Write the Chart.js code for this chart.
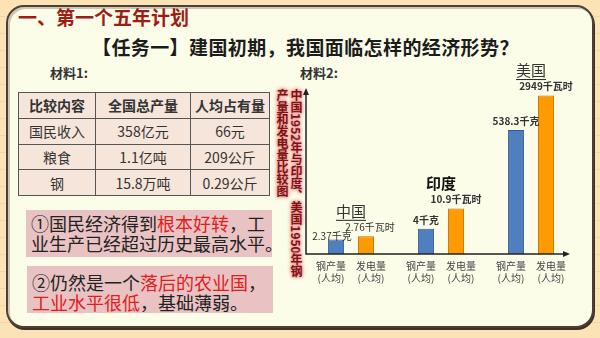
<!DOCTYPE html>
<html>
<head>
<meta charset="utf-8">
<script src="https://cdn.jsdelivr.net/npm/chart.js@4.4.1/dist/chart.umd.min.js"></script>
<style>
    html, body { margin: 0; padding: 0; }
    body {
        width: 600px; height: 338px; overflow: hidden; position: relative;
        font-family: "Noto Sans CJK SC", "Noto Sans", sans-serif;
        background: #fce3b6;
        background-image: repeating-linear-gradient(to bottom, transparent 0 16px, rgba(226, 186, 136, .35) 16px 17px);
    }
    .abs { position: absolute; white-space: nowrap; }
    .panel {
        left: 6px; top: 5px; width: 584px; height: 319px;
        border: 2px solid #4e3e33; border-radius: 18px; background: #fbfde9;
        box-shadow: inset 2px 2px 0 #cfc6b6, 1px 2px 0 #3f3229;
    }
    .title { left: 18px; top: 4px; font-size: 19px; line-height: 26px; font-weight: bold; color: #9e1d16; }
    .task { left: 92px; top: 34px; font-size: 19px; line-height: 26px; font-weight: bold; color: #1c1c1c; letter-spacing: .4px; }
    .mat { top: 64px; font-size: 13px; line-height: 18px; font-weight: 600; color: #333; }
    table.cmp {
        position: absolute; left: 18px; top: 92px; width: 252px; height: 104px;
        border-collapse: collapse; background: #f6e5da; font-size: 14px; color: #333;
    }
    table.cmp td { border: 1px solid #555; text-align: center; padding: 0; }
    table.cmp tr.head td { font-weight: bold; }
    .box {
        width: 241px; height: 47px; padding-left: 5px; background: #e9c3c3;
        font-size: 18px; line-height: 20px; color: #222; box-sizing: content-box;
    }
    .box .red { color: #e0201c; }
    .vtitle {
        left: 275px; top: 89px; writing-mode: vertical-rl; font-size: 12px; line-height: 14px;
        font-weight: bold; color: #7d1212;
        text-shadow: 0 0 2px #f09a9a, 0 0 3px #f09a9a, 0 0 4px #f2a6a6, 0 0 5px #f2a6a6;
    }
    #chart { position: absolute; left: 300px; top: 60px; }
</style>
</head>
<body>
<div class="abs panel"></div>
<div class="abs title">一、第一个五年计划</div>
<div class="abs task">【任务一】建国初期，我国面临怎样的经济形势？</div>
<div class="abs mat" style="left:50px">材料1:</div>
<div class="abs mat" style="left:300px">材料2:</div>

<table class="cmp">
    <tr class="head"><td style="width:76px">比较内容</td><td style="width:94px">全国总产量</td><td>人均占有量</td></tr>
    <tr><td>国民收入</td><td>358亿元</td><td>66元</td></tr>
    <tr><td>粮食</td><td>1.1亿吨</td><td>209公斤</td></tr>
    <tr><td>钢</td><td>15.8万吨</td><td>0.29公斤</td></tr>
</table>

<div class="abs box" style="left:26px; top:210px; padding-top:3px; height:44px">
    ①国民经济得到<span class="red">根本好转</span>，工<br>业生产已经超过历史最高水平。
</div>
<div class="abs box" style="left:27px; top:266px; padding-top:6px; height:41px">
    ②仍然是一个<span class="red">落后的农业国</span>，<br><span class="red">工业水平很低</span>，基础薄弱。
</div>

<div class="abs vtitle">中国1952年与印度、美国1950年钢<br>产量和发电量比较图</div>

<canvas id="chart" width="290" height="240"></canvas>

<script>
// 人均钢产量（千克）与人均发电量（千瓦时）
const countries = ['中国', '印度', '美国'];
const steelPerCapita = [2.37, 4, 538.3];
const powerPerCapita = [2.76, 10.9, 2949];
const measureLabels = [['钢产量', '(人均)'], ['发电量', '(人均)']];
const units = ['千克', '千瓦时'];

const barColors = ['#4f7fbf', '#ff9a00'];
const barBorders = ['#34598c', '#b86e00'];

// one category per bar, an empty one between the countries
var labels = [], values = [], kinds = [], owner = [];
countries.forEach(function (c, i) {
    if (i > 0) { labels.push(''); values.push(null); kinds.push(-1); owner.push(-1); }
    labels.push(measureLabels[0]); values.push(steelPerCapita[i]); kinds.push(0); owner.push(i);
    labels.push(measureLabels[1]); values.push(powerPerCapita[i]); kinds.push(1); owner.push(i);
});

const overlay = {
    id: 'overlay',
    afterDatasetsDraw(chart) {
        const ctx = chart.ctx;
        const area = chart.chartArea;
        const bars = chart.getDatasetMeta(0).data;

        // axes with arrow heads
        const ax = area.left - 15, ay = area.bottom, top = area.top - 1, right = area.right + 9;
        ctx.save();
        ctx.strokeStyle = '#222';
        ctx.fillStyle = '#222';
        ctx.lineWidth = 1.5;
        ctx.beginPath();
        ctx.moveTo(ax, top + 4); ctx.lineTo(ax, ay); ctx.lineTo(right - 5, ay);
        ctx.stroke();
        ctx.beginPath();
        ctx.moveTo(ax, top); ctx.lineTo(ax - 3, top + 7); ctx.lineTo(ax + 3, top + 7); ctx.closePath();
        ctx.fill();
        ctx.beginPath();
        ctx.moveTo(right, ay); ctx.lineTo(right - 7, ay - 3); ctx.lineTo(right - 7, ay + 3); ctx.closePath();
        ctx.fill();

        // value labels; the low China pair is staggered so the two don't collide
        ctx.textAlign = 'center';
        ctx.textBaseline = 'middle';
        ctx.fillStyle = '#333';
        values.forEach(function (v, i) {
            if (v === null) return;
            var china = owner[i] === 0;
            var dx = china ? (kinds[i] === 0 ? -4 : 4) : 0;
            var dy = china && kinds[i] === 0 ? -3 : -9;
            ctx.font = (china ? '' : 'bold ') + '10px "Noto Sans CJK SC", sans-serif';
            ctx.fillText(v + units[kinds[i]], bars[i].x + dx, bars[i].y + dy);
        });

        // country names over each pair
        countries.forEach(function (c, ci) {
            var idx = [];
            owner.forEach(function (o, i) { if (o === ci) idx.push(i); });
            var b1 = bars[idx[0]], b2 = bars[idx[1]];
            var x = (b1.x + b2.x) / 2;
            var y = Math.min(b1.y, b2.y) - 25;
            ctx.fillStyle = ci === 1 ? '#111' : '#333';
            ctx.font = (ci === 1 ? 'bold ' : '') + '15px "Noto Sans CJK SC", sans-serif';
            ctx.fillText(c, x, y);
            if (ci !== 1) {
                var w = ctx.measureText(c).width;
                ctx.lineWidth = 1;
                ctx.beginPath();
                ctx.moveTo(x - w / 2, y + 9); ctx.lineTo(x + w / 2, y + 9);
                ctx.stroke();
            }
        });
        ctx.restore();
    }
};

new Chart(document.getElementById('chart').getContext('2d'), {
    type: 'bar',
    data: {
        labels: labels,
        datasets: [{
            data: values,
            backgroundColor: kinds.map(function (k) { return barColors[Math.max(k, 0)]; }),
            borderColor: kinds.map(function (k) { return barBorders[Math.max(k, 0)]; }),
            borderWidth: 1,
            barPercentage: 0.54,
            categoryPercentage: 1
        }]
    },
    options: {
        responsive: false,
        animation: false,
        layout: { padding: { left: 21, right: 29, top: 29, bottom: 10 } },
        plugins: { legend: { display: false }, tooltip: { enabled: false } },
        scales: {
            x: {
                grid: { display: false, drawTicks: false },
                border: { display: false },
                ticks: {
                    autoSkip: false, maxRotation: 0, padding: 6, color: '#444',
                    font: { size: 10, family: '"Noto Sans CJK SC", sans-serif', lineHeight: 1.2 },
                    // push the two labels of a pair slightly apart
                    callback: function (value, index) {
                        var lab = this.getLabelForValue(value);
                        if (!Array.isArray(lab)) return lab;
                        return kinds[index] === 0
                            ? lab.map(function (s) { return s + '\u3000'; })
                            : lab.map(function (s) { return '\u3000' + s; });
                    }
                }
            },
            y: {
                type: 'logarithmic',
                display: false,
                min: 1.15,
                max: 4080
            }
        }
    },
    plugins: [overlay]
});
</script>
</body>
</html>
